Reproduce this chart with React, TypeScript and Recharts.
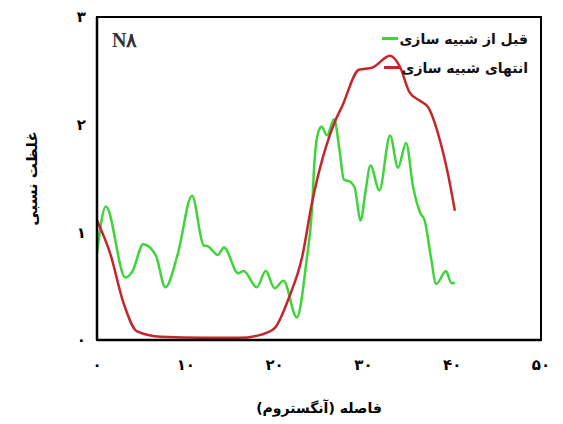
import { LineChart, Line, XAxis, YAxis, ReferenceArea, Legend, Label } from "recharts";

// x = distance (Angstrom), y = relative concentration
const beforeX = [0, 1, 3.2, 4, 5.2, 6.6, 7.7, 9.1, 10.7, 12, 12.5, 13.6, 14.3, 15.9, 16.5, 18, 19, 20, 21, 22.5, 23.6, 24.2, 24.5, 25, 25.3, 25.9, 26.7, 27.3, 27.8, 28.5, 29, 29.7, 30.2, 30.8, 31.8, 33, 33.9, 34.8, 35.6, 36.4, 36.9, 37.6, 38.2, 39.3, 39.9, 40.3];
const beforeY = [0.81, 1.24, 0.58, 0.64, 0.89, 0.79, 0.49, 0.8, 1.34, 0.88, 0.87, 0.79, 0.86, 0.62, 0.64, 0.49, 0.64, 0.48, 0.55, 0.21, 0.74, 1.2, 1.67, 1.95, 1.98, 1.9, 2.05, 1.77, 1.49, 1.47, 1.42, 1.11, 1.36, 1.62, 1.39, 1.9, 1.6, 1.83, 1.42, 1.18, 1.11, 0.77, 0.52, 0.64, 0.53, 0.53];

const endX = [0, 1.5, 3, 4.5, 7.2, 12, 16, 18.5, 20, 21.6, 23.1, 24.2, 26.8, 27.6, 29.5, 31, 33, 34.1, 35.2, 36.4, 37.3, 38.6, 39.5, 40.3];
const endY = [1.11, 0.8, 0.34, 0.08, 0.03, 0.02, 0.02, 0.05, 0.11, 0.39, 0.77, 1.27, 2.03, 2.17, 2.51, 2.53, 2.64, 2.54, 2.3, 2.22, 2.16, 1.86, 1.55, 1.2];

const xTicks = [0, 10, 20, 30, 40, 50];
const yTicks = [0, 1, 2, 3];

const beforeLabel = "قبل از شبیه سازی";
const endLabel = "انتهای شبیه سازی";

const beforeData = beforeX.map((x, i) => ({ x, y: beforeY[i] }));
const endData = endX.map((x, i) => ({ x, y: endY[i] }));

const GREEN = "#3fd43a";
const RED = "#c4262b";
const FONT = "'DejaVu Sans', sans-serif";

const fa = (v: number) => String(v).replace(/\d/g, (d) => "۰۱۲۳۴۵۶۷۸۹"[Number(d)]);

const tickStyle = { fill: "#000", fontSize: 15, fontWeight: 700, fontFamily: FONT };

function LegendBox() {
  const items = [
    { label: beforeLabel, color: GREEN },
    { label: endLabel, color: RED },
  ];
  return (
    <div style={{ fontFamily: FONT, fontWeight: 700, fontSize: 14 }}>
      {items.map((it) => (
        <div
          key={it.label}
          style={{ display: "flex", alignItems: "center", justifyContent: "flex-end", height: 29 }}
        >
          <span style={{ width: 16, height: 2.5, background: it.color, display: "inline-block", marginRight: 2 }} />
          <span style={{ direction: "rtl", color: "#111" }}>{it.label}</span>
        </div>
      ))}
    </div>
  );
}

export default function App() {
  return (
    <div style={{ position: "absolute", left: 0, top: 0, background: "#fff" }}>
      <LineChart width={563} height={424} margin={{ top: 17, right: 22, left: 0, bottom: 54 }}>
        <XAxis
          type="number"
          dataKey="x"
          domain={[0, 50]}
          ticks={xTicks}
          tickFormatter={fa}
          tickLine={false}
          axisLine={{ stroke: "#000", strokeWidth: 2.5 }}
          tick={tickStyle}
          tickMargin={13}
          height={30}
          allowDuplicatedCategory={false}
        >
          <Label
            value="فاصله (آنگستروم)"
            position="center"
            dy={53}
            style={{ fill: "#000", fontSize: 14, fontWeight: 700, fontFamily: FONT }}
          />
        </XAxis>
        <YAxis
          type="number"
          dataKey="y"
          domain={[0, 3]}
          ticks={yTicks}
          tickFormatter={fa}
          tickLine={false}
          axisLine={{ stroke: "#000", strokeWidth: 2.5 }}
          tick={tickStyle}
          tickMargin={5}
          width={97}
        >
          <Label
            value="غلظت نسبی"
            position="center"
            angle={-90}
            dx={-17}
            style={{ fill: "#000", fontSize: 15, fontWeight: 700, fontFamily: FONT }}
          />
        </YAxis>
        <ReferenceArea x1={0} x2={50} y1={0} y2={3} fill="none" stroke="#000" strokeWidth={2} />
        <Line
          data={beforeData}
          dataKey="y"
          name={beforeLabel}
          type="monotone"
          stroke={GREEN}
          strokeWidth={2.5}
          dot={false}
          isAnimationActive={false}
        />
        <Line
          data={endData}
          dataKey="y"
          name={endLabel}
          type="monotone"
          stroke={RED}
          strokeWidth={2.5}
          dot={false}
          isAnimationActive={false}
        />
        <Legend
          layout="vertical"
          align="center"
          verticalAlign="middle"
          content={() => <LegendBox />}
          wrapperStyle={{ left: 328, top: 24, width: 200 }}
        />
        <text x={112} y={47} style={{ fontFamily: "'Liberation Serif', serif", fontWeight: 700, fontSize: 20, fill: "#333" }}>
          N۸
        </text>
      </LineChart>
    </div>
  );
}
